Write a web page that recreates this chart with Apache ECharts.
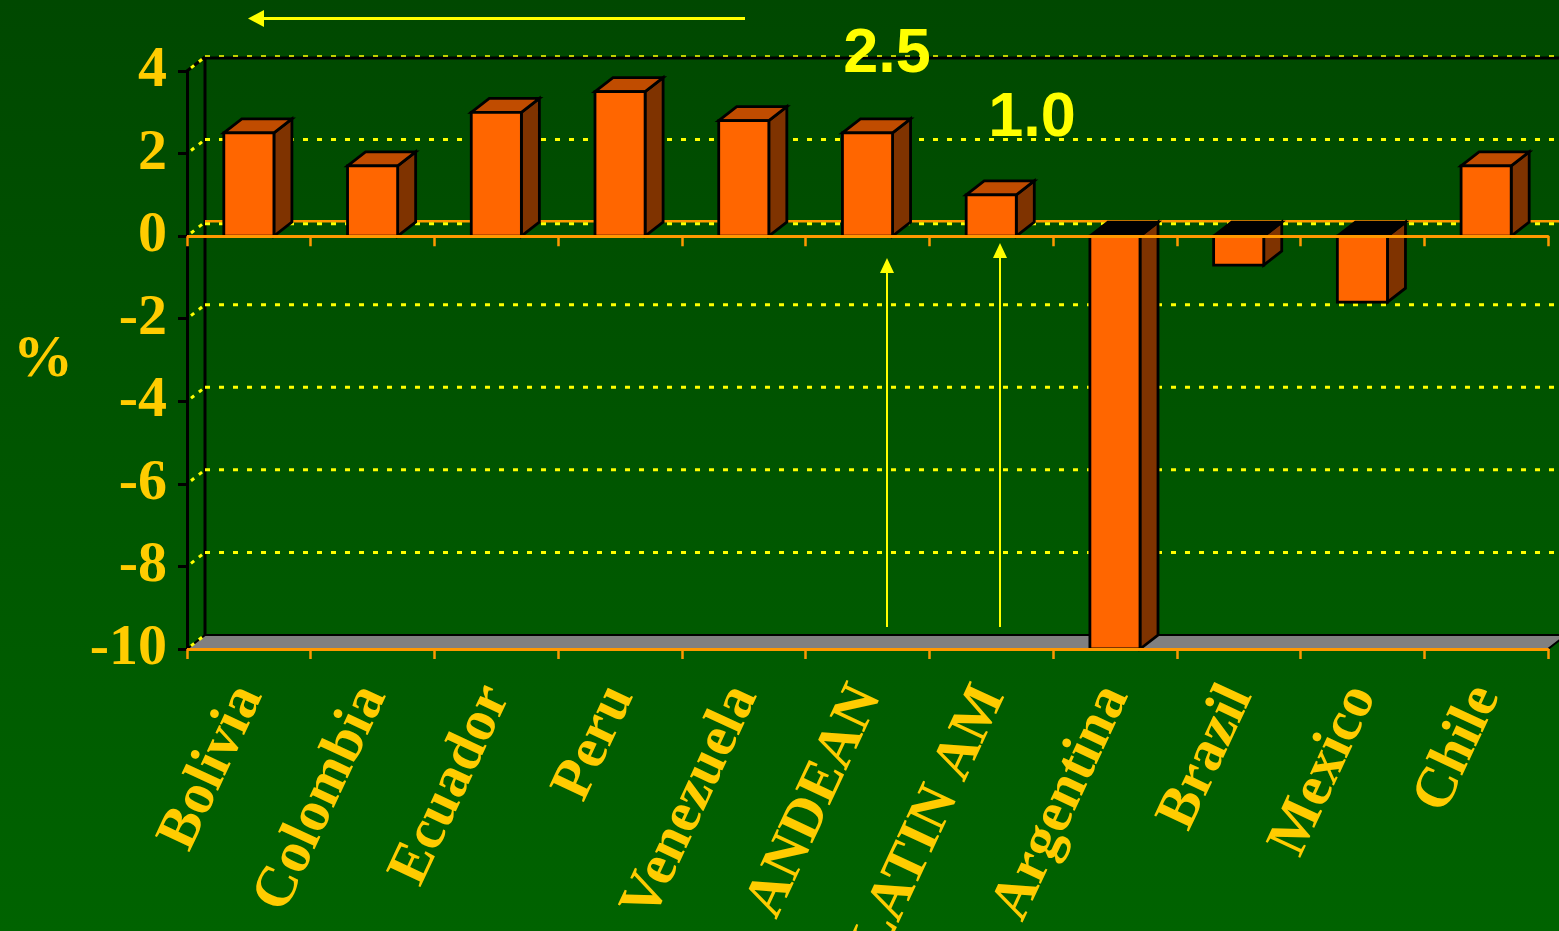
<!DOCTYPE html>
<html>
<head>
<meta charset="utf-8">
<title>GDP growth</title>
<script src="https://cdn.jsdelivr.net/npm/echarts@6/dist/echarts.min.js"></script>
<style>
  html, body { margin: 0; padding: 0; background: #004a00; }
  #chart { width: 1559px; height: 931px; }
</style>
</head>
<body>
<div id="chart"></div>
<script>
// Real GDP growth, %
const categories = ['Bolivia', 'Colombia', 'Ecuador', 'Peru', 'Venezuela', 'ANDEAN', 'LATIN AM', 'Argentina', 'Brazil', 'Mexico', 'Chile'];
const growth = [2.5, 1.7, 3.0, 3.5, 2.8, 2.5, 1.0, -10, -0.7, -1.6, 1.7];
const yTicks = [-10, -8, -6, -4, -2, 0, 2, 4];
const yUnit = '%';

// pseudo-3D depth offset of the back wall and bar sides
const DX = 18, DY = -14;
const BAR_RATIO = 0.405;
const LABEL_GOLD = '#FFCC00';
const AXIS_ORANGE = '#FF9900';
const NOTE_YELLOW = '#FFFF00';

const yMin = yTicks[0], yMax = yTicks[yTicks.length - 1];

const chart = echarts.init(document.getElementById('chart'));

// back wall, side wall and floor, one item per y tick
function renderWall(params, api) {
  const v = api.value(1);
  const cs = params.coordSys;
  const y = api.coord([0, v])[1];
  const yTop = api.coord([0, yMax])[1];
  const yBot = api.coord([0, yMin])[1];
  const xl = cs.x, xr = cs.x + cs.width;
  const kids = [];
  if (v === yMin) {
    kids.push({
      type: 'polygon',
      shape: { points: [[xl, y], [xl + DX, y + DY], [xr + DX, y + DY], [xr, y]] },
      style: { fill: '#808080', stroke: '#000', lineWidth: 2 }
    });
    kids.push({
      type: 'line',
      shape: { x1: xl + DX, y1: yTop + DY, x2: xl + DX, y2: yBot + DY },
      style: { stroke: '#000', lineWidth: 3 }
    });
  }
  if (v === yMax) {
    kids.push({
      type: 'line',
      shape: { x1: xl + DX, y1: y + DY + 1, x2: xr + DX, y2: y + DY + 1 },
      style: { stroke: '#000', lineWidth: 3 }
    });
    kids.push({
      type: 'line',
      shape: { x1: xl, y1: y, x2: xl + DX, y2: y + DY },
      style: { stroke: '#000', lineWidth: 3 }
    });
    kids.push({
      type: 'line',
      shape: { x1: xl + DX, y1: y + DY - 1, x2: xr + DX, y2: y + DY - 1 },
      style: { stroke: NOTE_YELLOW, lineWidth: 1.5, lineDash: [5, 9] }
    });
  } else if (v !== yMin) {
    if (v === 0) {
      kids.push({
        type: 'line',
        shape: { x1: xl + DX, y1: y + DY - 1, x2: xr + DX, y2: y + DY - 1 },
        style: { stroke: AXIS_ORANGE, lineWidth: 2.5 }
      });
    }
    kids.push({
      type: 'line',
      shape: { x1: xl + DX, y1: y + DY + (v === 0 ? 1.5 : 0), x2: xr + DX, y2: y + DY + (v === 0 ? 1.5 : 0) },
      style: { stroke: NOTE_YELLOW, lineWidth: 3, lineDash: [5, 9] }
    });
  }
  kids.push({
    type: 'line',
    shape: { x1: xl + 4, y1: y + DY * 4 / DX, x2: xl + DX - 2, y2: y + DY * (DX - 2) / DX },
    style: { stroke: NOTE_YELLOW, lineWidth: 3, lineDash: [4, 6] }
  });
  return { type: 'group', children: kids };
}

// 3D-looking column: side, cap and front face
function renderBar(params, api) {
  const idx = api.value(0);
  const v = api.value(1);
  const p0 = api.coord([idx, 0]);
  const p1 = api.coord([idx, v]);
  const w = api.size([1, 0])[0] * BAR_RATIO;
  const xl = p0[0] - w / 2, xr = p0[0] + w / 2;
  const yTop = Math.min(p0[1], p1[1]);
  const yBot = Math.max(p0[1], p1[1]);
  const edge = { stroke: '#000', lineWidth: 2.8, lineJoin: 'miter' };
  return {
    type: 'group',
    children: [
      {
        type: 'polygon',
        shape: { points: [[xr, yTop], [xr + DX, yTop + DY], [xr + DX, yBot + DY], [xr, yBot]] },
        style: Object.assign({ fill: '#7F3300' }, edge)
      },
      {
        type: 'polygon',
        shape: { points: [[xl, yTop], [xl + DX, yTop + DY], [xr + DX, yTop + DY], [xr, yTop]] },
        style: Object.assign({ fill: v >= 0 ? '#C04C00' : '#000000' }, edge)
      },
      {
        type: 'rect',
        shape: { x: xl, y: yTop, width: w, height: yBot - yTop },
        style: Object.assign({ fill: '#FF6600' }, edge)
      }
    ]
  };
}

const andeanValue = growth[categories.indexOf('ANDEAN')];
const latamValue = growth[categories.indexOf('LATIN AM')];

const option = {
  animation: false,
  backgroundColor: {
    type: 'linear', x: 0, y: 0, x2: 0, y2: 1,
    colorStops: [{ offset: 0, color: '#004800' }, { offset: 1, color: '#006300' }]
  },
  grid: { left: 187, right: 11, top: 71, height: 578, containLabel: false, outerBoundsMode: 'none' },
  xAxis: [
    {
      type: 'category',
      data: categories,
      position: 'bottom',
      boundaryGap: true,
      axisLine: { onZero: false, lineStyle: { color: AXIS_ORANGE, width: 3 } },
      axisTick: { show: true, length: 10, lineStyle: { color: AXIS_ORANGE, width: 2.5 } },
      axisLabel: {
        interval: 0,
        rotate: 65,
        margin: 40,
        color: LABEL_GOLD,
        fontFamily: 'Liberation Serif',
        fontWeight: 'bold',
        fontSize: 58
      },
      splitLine: { show: false },
      z: 10
    },
    {
      type: 'category',
      data: categories,
      position: 'bottom',
      boundaryGap: true,
      axisLine: { onZero: true, onZeroAxisIndex: 0, lineStyle: { color: AXIS_ORANGE, width: 3 } },
      axisTick: { show: true, length: 10, lineStyle: { color: AXIS_ORANGE, width: 2.5 } },
      axisLabel: { show: false },
      splitLine: { show: false },
      z: 10
    }
  ],
  yAxis: {
    type: 'value',
    min: yMin,
    max: yMax,
    interval: 2,
    name: yUnit,
    nameLocation: 'middle',
    nameRotate: 0,
    nameGap: 144,
    nameTextStyle: {
      color: LABEL_GOLD,
      fontFamily: 'Liberation Serif',
      fontWeight: 'bold',
      fontSize: 60,
      align: 'center',
      verticalAlign: 'middle',
      padding: [12, 0, 0, 0]
    },
    axisLine: { show: true, lineStyle: { color: '#000', width: 3 } },
    axisTick: { show: true, length: 9, lineStyle: { color: '#000', width: 3 } },
    axisLabel: {
      margin: 20,
      color: LABEL_GOLD,
      fontFamily: 'Liberation Serif',
      fontWeight: 'bold',
      fontSize: 58
    },
    splitLine: { show: false },
    z: 10
  },
  series: [
    {
      type: 'custom',
      name: 'wall',
      xAxisIndex: 0,
      yAxisIndex: 0,
      z: 1,
      silent: true,
      data: yTicks.map(v => [0, v]),
      encode: { x: 0, y: 1 },
      renderItem: renderWall
    },
    {
      type: 'custom',
      name: 'growth',
      xAxisIndex: 0,
      yAxisIndex: 0,
      z: 3,
      data: growth.map((v, i) => [i, v]),
      encode: { x: 0, y: 1 },
      renderItem: renderBar
    }
  ],
  graphic: [
    // arrow across the top, pointing left
    { type: 'line', shape: { x1: 745, y1: 18.5, x2: 262, y2: 18.5 }, style: { stroke: NOTE_YELLOW, lineWidth: 3 }, z: 20 },
    { type: 'polygon', shape: { points: [[248, 18.5], [264, 10], [264, 27]] }, style: { fill: NOTE_YELLOW }, z: 20 },
    // regional averages
    { type: 'line', shape: { x1: 887, y1: 627, x2: 887, y2: 270 }, style: { stroke: NOTE_YELLOW, lineWidth: 2 }, z: 20 },
    { type: 'polygon', shape: { points: [[887, 258], [880, 273], [894, 273]] }, style: { fill: NOTE_YELLOW }, z: 20 },
    { type: 'line', shape: { x1: 1000, y1: 627, x2: 1000, y2: 255 }, style: { stroke: NOTE_YELLOW, lineWidth: 2 }, z: 20 },
    { type: 'polygon', shape: { points: [[1000, 243], [993, 258], [1007, 258]] }, style: { fill: NOTE_YELLOW }, z: 20 },
    {
      type: 'text', x: 887, y: 55, z: 20,
      style: {
        text: andeanValue.toFixed(1), fill: NOTE_YELLOW,
        font: 'bold 63px "Liberation Sans"', align: 'center', verticalAlign: 'middle'
      }
    },
    {
      type: 'text', x: 1032, y: 119, z: 20,
      style: {
        text: latamValue.toFixed(1), fill: NOTE_YELLOW,
        font: 'bold 63px "Liberation Sans"', align: 'center', verticalAlign: 'middle'
      }
    }
  ]
};

chart.setOption(option);
</script>
</body>
</html>
